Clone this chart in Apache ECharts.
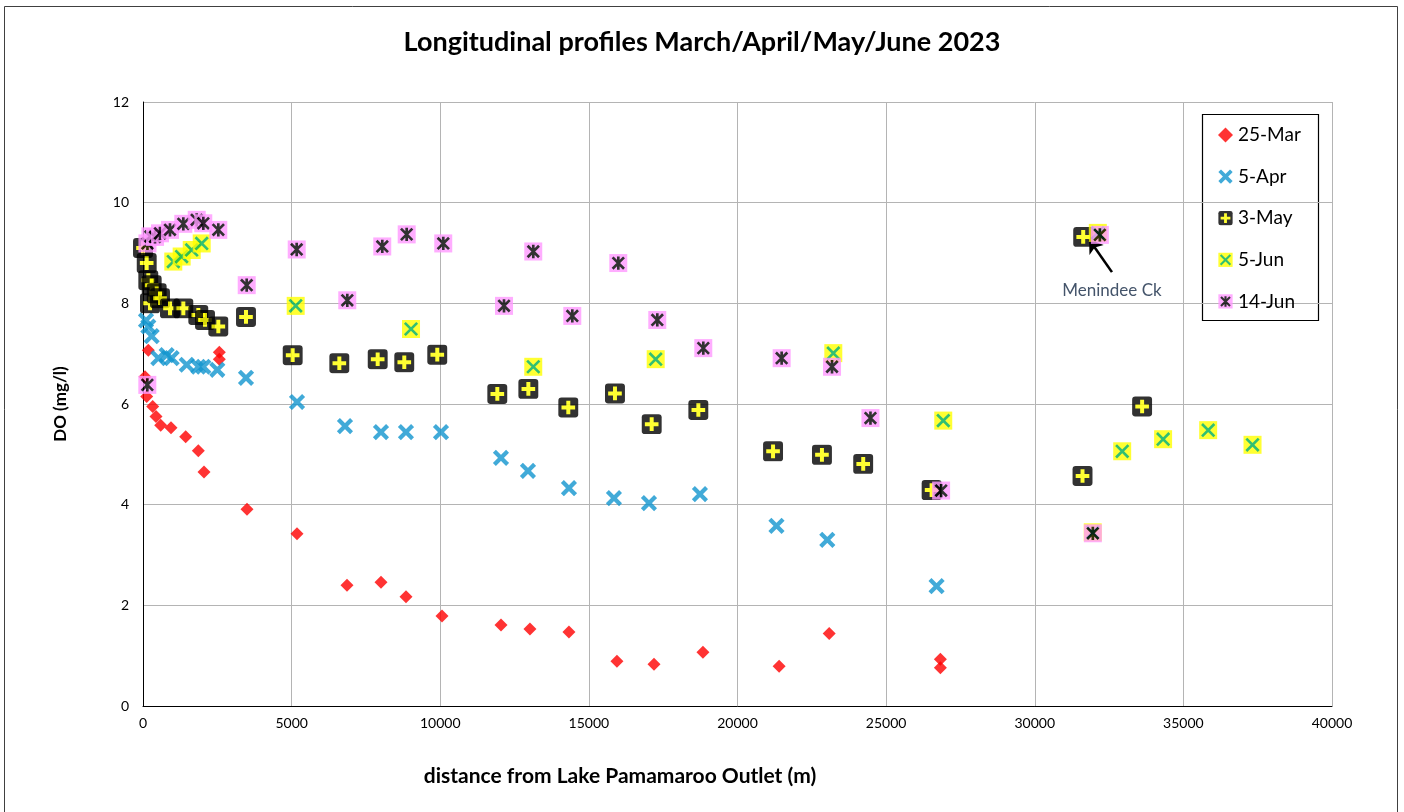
<!DOCTYPE html>
<html>
<head>
<meta charset="utf-8">
<script src="https://cdn.jsdelivr.net/npm/echarts@6/dist/echarts.min.js"></script>
<style>
  html, body { margin: 0; padding: 0; background: #fff; }
  #chart { width: 1404px; height: 812px; }
</style>
</head>
<body>
<div id="chart"></div>
<script>
// Dissolved oxygen along the river, distance (m) from Lake Pamamaroo outlet
const seriesNames = ['25-Mar', '5-Apr', '3-May', '5-Jun', '14-Jun'];

const dist25Mar = [67, 124, 178, 326, 437, 595, 942, 1436, 1860, 2052, 2567, 2567, 3499, 5181, 6862, 8006, 8847, 10058, 12043, 13018, 14330, 15945, 17190, 18838, 21400, 23085, 26825, 26825];
const do25Mar   = [6.54, 6.15, 7.07, 5.95, 5.75, 5.58, 5.53, 5.35, 5.07, 4.65, 7.03, 6.89, 3.91, 3.42, 2.40, 2.46, 2.17, 1.79, 1.61, 1.53, 1.47, 0.89, 0.83, 1.07, 0.79, 1.44, 0.93, 0.76];

const dist5Apr = [101, 179, 292, 516, 796, 964, 1470, 1862, 2029, 2500, 3465, 5181, 6795, 8006, 8847, 10025, 12043, 12951, 14330, 15844, 17022, 18737, 21311, 23021, 26697];
const do5Apr   = [7.66, 7.54, 7.35, 6.91, 6.97, 6.91, 6.78, 6.74, 6.74, 6.68, 6.52, 6.04, 5.56, 5.44, 5.44, 5.44, 4.93, 4.67, 4.33, 4.13, 4.03, 4.21, 3.58, 3.30, 2.38];

const dist3May = [0, 124, 179, 235, 292, 460, 572, 908, 1357, 1861, 2086, 2534, 3465, 5035, 6605, 7895, 8790, 9900, 11920, 12964, 14308, 15878, 17113, 18683, 21196, 22841, 24229, 26530, 31607, 31630, 33612];
const do3May   = [9.10, 8.80, 8.46, 8.00, 8.36, 8.20, 8.10, 7.90, 7.90, 7.77, 7.67, 7.54, 7.73, 6.97, 6.81, 6.89, 6.83, 6.98, 6.20, 6.30, 5.93, 6.21, 5.60, 5.88, 5.06, 4.99, 4.81, 4.29, 4.57, 9.32, 5.95];

const dist5Jun = [1020, 1300, 1638, 1974, 5136, 9016, 13130, 17247, 23224, 26923, 31950, 32120, 32943, 34319, 35835, 37326];
const do5Jun   = [8.83, 8.93, 9.06, 9.19, 7.95, 7.49, 6.74, 6.89, 7.01, 5.67, 3.45, 9.40, 5.06, 5.30, 5.48, 5.19];

const dist14Jun = [146, 150, 250, 404, 572, 908, 1357, 1806, 2029, 2534, 3488, 5170, 6873, 8050, 8870, 10102, 12145, 13130, 14443, 15990, 17302, 18850, 21485, 23180, 24473, 26851, 31954, 32190];
const do14Jun   = [6.38, 9.19, 9.33, 9.32, 9.39, 9.46, 9.58, 9.66, 9.59, 9.46, 8.36, 9.07, 8.06, 9.13, 9.37, 9.19, 7.95, 9.03, 7.75, 8.80, 7.67, 7.11, 6.91, 6.74, 5.72, 4.28, 3.43, 9.36];

const xTicks = [0, 5000, 10000, 15000, 20000, 25000, 30000, 35000, 40000];
const yTicks = [0, 2, 4, 6, 8, 10, 12];

// Menindee Creek callout: arrow tail, arrow head, label anchor (data space)
const calloutTail = [32597, 8.62];
const calloutHead = [31830, 9.27];
const calloutLabel = [32597, 8.25];

const FONT = 'Lato, "Liberation Sans", sans-serif';

function pairs(xs, ys) { return xs.map((x, i) => [x, ys[i]]); }
function svgSymbol(inner) {
  const svg = '<svg xmlns="http://www.w3.org/2000/svg" width="40" height="40" viewBox="0 0 20 20">' + inner + '</svg>';
  return 'image://data:image/svg+xml;charset=utf-8,' + encodeURIComponent(svg);
}

const symApr = svgSymbol('<path d="M4 4L16 16M16 4L4 16" stroke="#1296CF" stroke-width="5" stroke-linecap="square" fill="none"/>');
const symMay = svgSymbol('<rect x="0.5" y="0.5" width="19" height="19" rx="3" fill="#000"/><path d="M10 3.5V16.5M3.5 10H16.5" stroke="#FFFF00" stroke-width="3.8" fill="none"/>');
const symJun5 = svgSymbol('<rect x="0.5" y="0.5" width="19" height="19" fill="#FFFF00"/><path d="M3.5 3.5L16.5 16.5M16.5 3.5L3.5 16.5" stroke="#00B050" stroke-width="2.8" fill="none"/>');
const symJun14 = svgSymbol('<rect x="0.5" y="0.5" width="19" height="19" fill="#FF99FF"/><path d="M10 3V17M4 4L16 16M16 4L4 16" stroke="#000" stroke-width="2.8" fill="none"/>');

const chart = echarts.init(document.getElementById('chart'), null, { renderer: 'canvas' });

chart.setOption({
  backgroundColor: '#ffffff',
  animation: false,
  title: {
    text: 'Longitudinal profiles March/April/May/June 2023',
    left: 'center',
    top: 24,
    textStyle: { fontFamily: FONT, fontSize: 27, fontWeight: 'bold', color: '#000' }
  },
  grid: { left: 143, top: 102, width: 1189, height: 604, containLabel: false },
  xAxis: {
    type: 'value', min: xTicks[0], max: xTicks[xTicks.length - 1], interval: 5000,
    axisLine: { show: true, onZero: false, lineStyle: { color: '#000', width: 1 } },
    axisTick: { show: false },
    axisLabel: { color: '#000', fontFamily: FONT, fontSize: 14, margin: 10, formatter: v => String(v) },
    splitLine: { show: true, lineStyle: { color: '#B4B4B4', width: 1 } }
  },
  yAxis: {
    type: 'value', min: yTicks[0], max: yTicks[yTicks.length - 1], interval: 2,
    axisLine: { show: true, onZero: false, lineStyle: { color: '#000', width: 1 } },
    axisTick: { show: false },
    axisLabel: { color: '#000', fontFamily: FONT, fontSize: 14, margin: 14, formatter: v => String(v) },
    splitLine: { show: true, lineStyle: { color: '#B4B4B4', width: 1 } }
  },
  legend: {
    data: seriesNames,
    orient: 'vertical',
    left: 1203, top: 114,
    padding: [11, 10, 11, 15],
    itemGap: 21.6,
    itemWidth: 15, itemHeight: 15,
    textStyle: { fontFamily: FONT, fontSize: 19, color: '#000', lineHeight: 20 }
  },
  graphic: [
    { type: 'rect', shape: { x: 4.5, y: 6.5, width: 1393, height: 830 }, style: { fill: 'none', stroke: '#404040', lineWidth: 1 }, silent: true, z: -1 },
    { type: 'rect', shape: { x: 1202.5, y: 114.5, width: 116, height: 206 }, style: { fill: '#fff', stroke: '#000', lineWidth: 1.2 }, silent: true, z: 0 },
    { type: 'text', x: 61, y: 404, rotation: Math.PI / 2,
      style: { text: 'DO (mg/l)', fill: '#000', font: 'bold 17px ' + FONT, textAlign: 'center', textVerticalAlign: 'middle' } },
    { type: 'text', x: 620, y: 776,
      style: { text: 'distance from Lake Pamamaroo Outlet (m)', fill: '#000', font: 'bold 21px ' + FONT, textAlign: 'center', textVerticalAlign: 'middle' } }
  ],
  series: [
    { name: seriesNames[0], type: 'scatter', data: pairs(dist25Mar, do25Mar),
      symbol: 'diamond', symbolSize: 13, itemStyle: { color: '#FF0000' }, z: 2 },
    { name: seriesNames[1], type: 'scatter', data: pairs(dist5Apr, do5Apr),
      symbol: symApr, symbolSize: 17, itemStyle: { color: '#1296CF' }, z: 3 },
    { name: seriesNames[2], type: 'scatter', data: pairs(dist3May, do3May),
      symbol: symMay, symbolSize: 21, itemStyle: { color: '#000' }, z: 4 },
    { name: seriesNames[3], type: 'scatter', data: pairs(dist5Jun, do5Jun),
      symbol: symJun5, symbolSize: 19, itemStyle: { color: '#FFFF00' }, z: 5 },
    { name: seriesNames[4], type: 'scatter', data: pairs(dist14Jun, do14Jun),
      symbol: symJun14, symbolSize: 19, itemStyle: { color: '#FF99FF' }, z: 6 },
    // callout for the Menindee Creek sample, drawn above the markers
    { name: 'callout', type: 'scatter', data: [], z: 10, zlevel: 1,
      markLine: {
        silent: true, animation: false,
        symbol: ['none', 'arrow'], symbolSize: 13,
        lineStyle: { color: '#000', width: 2.6, type: 'solid' },
        label: { show: false },
        data: [[{ coord: calloutTail }, { coord: calloutHead }]]
      },
      markPoint: {
        silent: true, animation: false,
        symbol: 'circle', symbolSize: 1, itemStyle: { color: 'rgba(0,0,0,0)' },
        label: { show: true, position: 'inside', formatter: 'Menindee Ck', color: '#44546A', fontFamily: FONT, fontSize: 17 },
        data: [{ coord: calloutLabel }]
      }
    }
  ]
});
</script>
</body>
</html>
